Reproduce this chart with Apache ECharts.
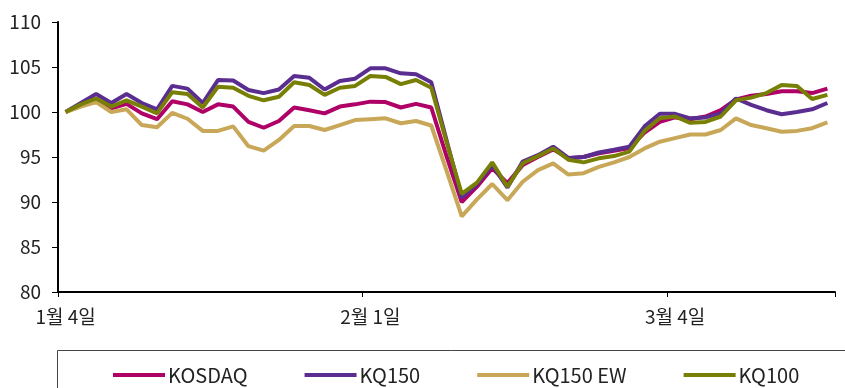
<!DOCTYPE html>
<html>
<head>
<meta charset="utf-8">
<script src="https://cdn.jsdelivr.net/npm/echarts@6/dist/echarts.min.js"></script>
<style>
  html, body { margin: 0; padding: 0; background: #fff; }
  #chart { width: 845px; height: 388px; }
</style>
</head>
<body>
<div id="chart"></div>
<script>
// 거래일 (1월 4일 ~ 3월 18일)
var dates = ["1월 4일","1월 5일","1월 6일","1월 7일","1월 8일","1월 11일","1월 12일","1월 13일","1월 14일","1월 15일",
    "1월 18일","1월 19일","1월 20일","1월 21일","1월 22일","1월 25일","1월 26일","1월 27일","1월 28일","1월 29일",
    "2월 1일","2월 2일","2월 3일","2월 4일","2월 5일","2월 8일","2월 9일","2월 10일","2월 15일","2월 16일",
    "2월 17일","2월 18일","2월 19일","2월 22일","2월 23일","2월 24일","2월 25일","2월 26일","3월 2일","3월 3일",
    "3월 4일","3월 5일","3월 8일","3월 9일","3월 10일","3월 11일","3월 12일","3월 15일","3월 16일","3월 17일","3월 18일"];

var kosdaq = [100,100.8,101.4,100.4,100.9,99.85,99.2,101.2,100.85,100.0,
    100.85,100.6,98.9,98.25,99.0,100.5,100.2,99.85,100.6,100.85,
    101.15,101.1,100.5,100.9,100.5,95.1,90.0,91.7,93.75,92.1,
    94.1,95.0,95.85,94.85,95.0,95.4,95.7,96.0,97.7,98.9,
    99.4,99.2,99.5,100.2,101.4,101.8,102.0,102.3,102.3,102.1,102.6];

var kq150 = [100,101.0,102.0,101.0,102.0,101.0,100.3,102.9,102.6,101.0,
    103.55,103.5,102.45,102.1,102.5,104.0,103.8,102.5,103.45,103.7,
    104.85,104.85,104.3,104.2,103.3,96.9,90.5,92.0,94.1,91.6,
    94.5,95.2,96.15,94.9,95.0,95.5,95.8,96.15,98.4,99.8,
    99.8,99.3,99.4,99.85,101.5,100.8,100.2,99.75,100.0,100.3,101.0];

var kq150ew = [100,100.6,101.1,100.0,100.3,98.55,98.3,99.9,99.25,97.9,
    97.9,98.4,96.2,95.7,96.9,98.45,98.45,98.0,98.55,99.1,
    99.2,99.3,98.75,99.0,98.5,93.5,88.4,90.3,92.0,90.2,
    92.25,93.55,94.3,93.05,93.2,93.9,94.4,95.0,95.95,96.7,
    97.1,97.5,97.5,98.0,99.3,98.55,98.2,97.8,97.9,98.2,98.85];

var kq100 = [100,100.85,101.5,100.6,101.3,100.6,99.85,102.2,102.0,100.5,
    102.8,102.7,101.8,101.3,101.7,103.3,103.0,101.9,102.7,102.9,
    104.0,103.9,103.1,103.55,102.7,96.7,90.9,92.15,94.4,91.7,
    94.3,95.1,95.95,94.7,94.4,94.85,95.1,95.6,97.9,99.3,
    99.5,98.8,98.9,99.5,101.3,101.6,102.1,103.0,102.9,101.45,101.9];

var seriesNames = ["KOSDAQ", "KQ150", "KQ150 EW", "KQ100"];
var colors = ["#AE0066", "#5A2D91", "#C8A858", "#787F05"];

var font = "'Noto Sans CJK KR', 'Noto Sans', sans-serif";

function makeLine(name, data) {
    return {
        name: name,
        type: "line",
        data: data,
        symbol: "none",
        smooth: false,
        lineStyle: { width: 4 }
    };
}

var option = {
    color: colors,
    animation: false,
    textStyle: { fontFamily: font },
    grid: { left: 58, right: 10, top: 22, bottom: 96, containLabel: false },
    legend: {
        data: seriesNames,
        left: 108,
        top: 360,
        icon: "rect",
        itemWidth: 52,
        itemHeight: 4,
        itemGap: 57,
        textStyle: { fontFamily: font, fontSize: 20, color: "#222", padding: [0, 0, 0, -2] }
    },
    graphic: [{
        type: "rect",
        shape: { x: 57.5, y: 350.5, width: 820, height: 80 },
        style: { fill: "none", stroke: "#444", lineWidth: 1 },
        silent: true
    }],
    xAxis: {
        type: "category",
        data: dates,
        boundaryGap: true,
        axisLine: { lineStyle: { color: "#000", width: 2 } },
        axisTick: { show: true, interval: 19, length: 5, lineStyle: { color: "#000", width: 1 } },
        axisLabel: { interval: 19, margin: 15, fontFamily: font, fontSize: 19, color: "#222" },
        splitLine: { show: false }
    },
    yAxis: {
        type: "value",
        min: 80,
        max: 110,
        interval: 5,
        axisLine: { show: true, lineStyle: { color: "#000", width: 2 } },
        axisTick: { show: true, length: 6, lineStyle: { color: "#000", width: 1 } },
        axisLabel: { margin: 17, fontFamily: font, fontSize: 19, color: "#222" },
        splitLine: { show: false }
    },
    series: [
        makeLine(seriesNames[0], kosdaq),
        makeLine(seriesNames[1], kq150),
        makeLine(seriesNames[2], kq150ew),
        makeLine(seriesNames[3], kq100)
    ]
};

var chart = echarts.init(document.getElementById("chart"), null, { renderer: "canvas" });
chart.setOption(option, true);
</script>
</body>
</html>
